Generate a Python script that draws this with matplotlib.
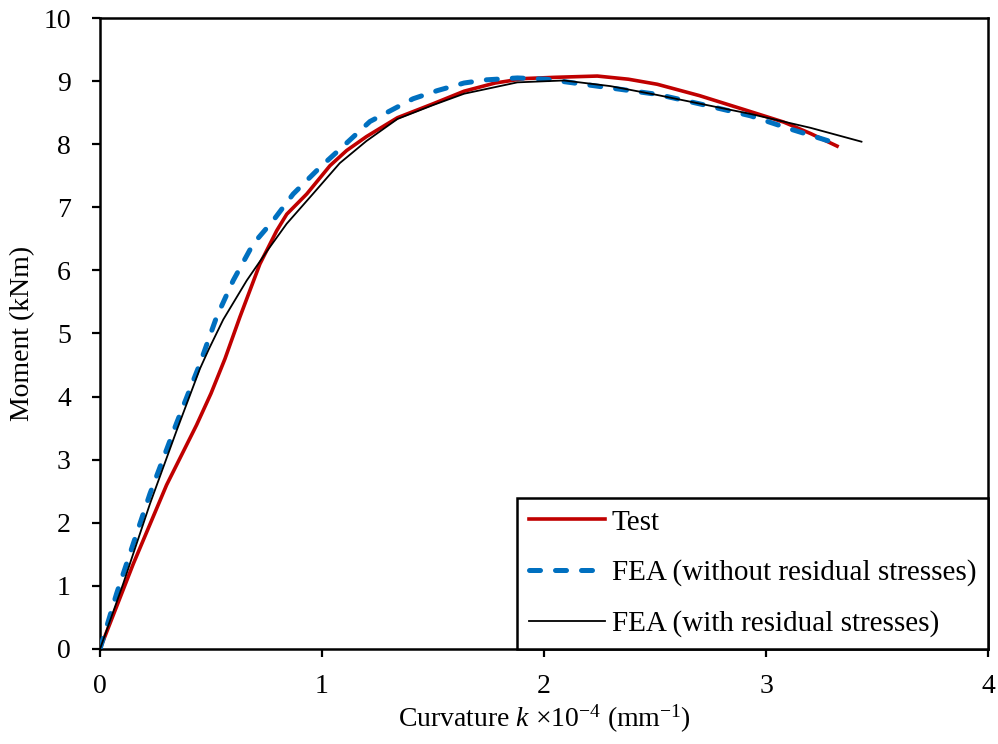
import matplotlib.pyplot as plt

# ====================================
# Data
# ====================================

test_k = [0.0, 0.15, 0.30, 0.435, 0.50, 0.563, 0.63, 0.72, 0.796, 0.841,
          0.931, 1.036, 1.111, 1.20, 1.34, 1.50, 1.64, 1.78, 1.91, 2.05,
          2.24, 2.38, 2.51, 2.70, 2.90, 3.08, 3.20, 3.32]
test_m = [0.0, 1.35, 2.60, 3.55, 4.05, 4.60, 5.26, 6.10, 6.63, 6.89,
          7.21, 7.66, 7.90, 8.12, 8.42, 8.64, 8.84, 8.97, 9.04, 9.06,
          9.08, 9.03, 8.95, 8.77, 8.55, 8.35, 8.17, 7.97]

fea_no_k = [0.0, 0.075, 0.225, 0.345, 0.45, 0.525, 0.60, 0.69, 0.78, 0.87,
            0.99, 1.096, 1.216, 1.41, 1.52, 1.64, 1.74, 1.88, 2.01, 2.24,
            2.51, 2.70, 2.93, 3.11, 3.32]
fea_no_m = [0.0, 0.88, 2.46, 3.58, 4.52, 5.26, 5.84, 6.42, 6.79, 7.21,
            7.63, 7.97, 8.36, 8.72, 8.85, 8.97, 9.02, 9.05, 9.03, 8.92,
            8.79, 8.64, 8.45, 8.24, 8.01]

fea_rs_k = [0.0, 0.105, 0.225, 0.345, 0.45, 0.49, 0.555, 0.661, 0.751,
            0.841, 0.961, 1.08, 1.20, 1.34, 1.50, 1.64, 1.88, 2.09, 2.30,
            2.51, 2.93, 3.20, 3.43]
fea_rs_m = [0.0, 1.04, 2.30, 3.46, 4.44, 4.75, 5.22, 5.84, 6.30,
            6.74, 7.22, 7.70, 8.05, 8.40, 8.62, 8.80, 8.98, 9.01, 8.92,
            8.78, 8.48, 8.26, 8.04]


# ====================================
# Style
# ====================================

plt.rcParams["font.family"] = ["Liberation Serif"]
plt.rcParams["mathtext.fontset"] = "custom"
plt.rcParams["mathtext.rm"] = "Liberation Serif"
plt.rcParams["mathtext.it"] = "Liberation Serif:italic"

fig = plt.figure(figsize=(9.98, 7.44), dpi=100)
ax = fig.add_axes([0.1002, 0.1277, 0.8898, 0.8481])


# ====================================
# Curves
# ====================================

ax.plot(test_k, test_m, color="#c00000", lw=2.6, label="Test", zorder=3)
ax.plot(fea_no_k, fea_no_m, color="#0070c0", lw=3.6, dashes=(2.2, 3.0),
        dash_capstyle="round", label="FEA (without residual stresses)",
        zorder=4)
ax.plot(fea_rs_k, fea_rs_m, color="black", lw=1.3,
        label="FEA (with residual stresses)", zorder=5)


# ====================================
# Axes
# ====================================

ax.set_xlim(0, 4)
ax.set_ylim(0, 10)
ax.set_xticks(range(0, 5))
ax.set_yticks(range(0, 11))
ax.tick_params(direction="out", length=6, width=1.6, labelsize=20)
ax.tick_params(axis="x", pad=12)
ax.tick_params(axis="y", pad=15)

for side in ax.spines.values():
    side.set_linewidth(1.8)

ax.set_xlabel(r"Curvature $k$ ×10$^{-4}$ (mm$^{-1}$)", fontsize=20, labelpad=3)
ax.set_ylabel("Moment (kNm)", fontsize=20, labelpad=6)

leg = ax.legend(
    loc="lower right",
    borderaxespad=0,
    fontsize=21,
    handlelength=2.6,
    handletextpad=0.25,
    labelspacing=0.82,
    fancybox=False,
    edgecolor="black",
    framealpha=1,
    borderpad=0.4
)
leg.get_frame().set_linewidth(1.8)

fig.savefig("out.png", dpi=100)
